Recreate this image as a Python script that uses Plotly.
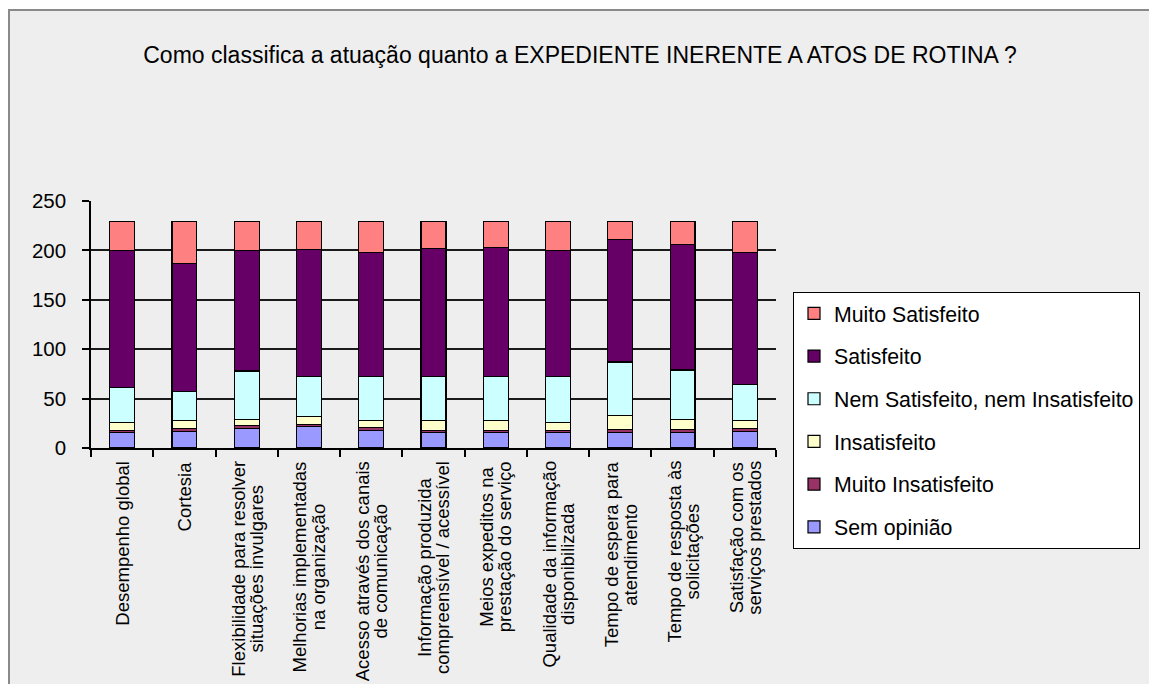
import plotly.graph_objects as go

# Item labels (each inner list is one line of the rotated axis label)
label_lines = [
    ["Desempenho global"],
    ["Cortesia"],
    ["Flexibilidade para resolver", "situações invulgares"],
    ["Melhorias implementadas", "na organização"],
    ["Acesso através dos canais", "de comunicação"],
    ["Informação produzida", "compreensível / acessível"],
    ["Meios expeditos na", "prestação do serviço"],
    ["Qualidade da informação", "disponibilizada"],
    ["Tempo de espera para", "atendimento"],
    ["Tempo de resposta às", "solicitações"],
    ["Satisfação com os", "serviços prestados"],
]
categories = [" ".join(lines) for lines in label_lines]

# Number of answers per rating level (stacked bottom to top)
sem_opiniao = [16, 17, 20, 22, 18, 16, 16, 16, 16, 16, 17]
muito_insatisfeito = [2, 3, 3, 2, 3, 2, 2, 2, 3, 3, 3]
insatisfeito = [8, 8, 6, 8, 7, 10, 10, 8, 14, 10, 8]
nem_nem = [35, 29, 49, 40, 44, 44, 44, 46, 54, 50, 36]
satisfeito = [139, 130, 122, 129, 126, 130, 131, 128, 124, 127, 134]
muito_satisfeito = [29, 42, 29, 28, 31, 27, 26, 29, 18, 23, 31]

series = [
    ("Sem opinião", sem_opiniao, "#9999FF"),
    ("Muito Insatisfeito", muito_insatisfeito, "#993366"),
    ("Insatisfeito", insatisfeito, "#FFFFCC"),
    ("Nem Satisfeito, nem Insatisfeito", nem_nem, "#CCFFFF"),
    ("Satisfeito", satisfeito, "#660066"),
    ("Muito Satisfeito", muito_satisfeito, "#FF8080"),
]

y_ticks = [0, 50, 100, 150, 200, 250]

W, H = 1149, 684
ML, MR, MT, MB = 91, 373, 201, 236
FONT = "Liberation Sans, Arial, sans-serif"

fig = go.Figure()
n = len(series)
for i, (name, vals, color) in enumerate(series):
    fig.add_trace(go.Bar(
        x=categories, y=vals, name=name,
        marker=dict(color=color, line=dict(color="#000000", width=1.2)),
        legendgroup=f"g{i}",
        legendrank=n - i,  # top segment listed first
    ))

# Rotated, centred multi-line category labels under each bar
annotations = []
for cat, lines in zip(categories, label_lines):
    txt = "<br>".join(f'<span style="font-size:18.5px">{ln}</span>' for ln in lines)
    annotations.append(dict(
        x=cat, xref="x", y=0, yref="y", yanchor="top", xanchor="center",
        yshift=-11, textangle=-90, align="center", showarrow=False,
        text=txt, font=dict(family=FONT, size=14, color="#000000"),
    ))

# Page frame: light grey panel with a thin darker edge at top and left
pw, ph = W - ML - MR, H - MT - MB
def px_x(px):
    return (px - ML) / pw
def px_y(py):
    return (H - MB - py) / ph

shapes = [
    dict(type="rect", xref="paper", yref="paper", layer="below",
         x0=px_x(9), x1=px_x(W + 20), y0=px_y(H + 20), y1=px_y(10),
         fillcolor="#EEEEEE", line=dict(color="#8A8A8A", width=2)),
]

fig.update_layout(
    width=W, height=H,
    margin=dict(l=ML, r=MR, t=MT, b=MB, autoexpand=False),
    paper_bgcolor="#FFFFFF",
    plot_bgcolor="rgba(0,0,0,0)",
    barmode="stack",
    bargap=0.6,
    title=dict(
        text="Como classifica a atuação quanto a EXPEDIENTE INERENTE A ATOS DE ROTINA ?",
        x=580 / W, xanchor="center", y=1 - 55 / H, yanchor="middle",
        font=dict(family=FONT, size=23, color="#000000"),
    ),
    font=dict(family=FONT, color="#000000"),
    legend=dict(
        xref="container", yref="container",
        x=793 / W, xanchor="left", y=1 - 292 / H, yanchor="top",
        bgcolor="#FFFFFF", bordercolor="#000000", borderwidth=1,
        font=dict(family=FONT, size=21.3, color="#000000"),
        traceorder="grouped", tracegroupgap=12,
    ),
    showlegend=True,
    annotations=annotations,
    shapes=shapes,
)

fig.update_xaxes(
    showticklabels=False, ticks="outside", tickson="boundaries",
    ticklen=7, tickcolor="#000000", tickwidth=1.5,
    showline=True, linecolor="#000000", linewidth=1.5,
    showgrid=False,
)
fig.update_yaxes(
    range=[0, 250], tickvals=y_ticks, ticks="outside", ticklen=7,
    tickcolor="#000000", tickwidth=1.5,
    showline=True, linecolor="#000000", linewidth=1.5,
    showgrid=True, gridcolor="#1A1A1A", gridwidth=1.5,
    zeroline=False,
    tickfont=dict(family=FONT, size=20.5, color="#000000"),
    ticklabelstandoff=12,
)

fig.write_html("out.html")
